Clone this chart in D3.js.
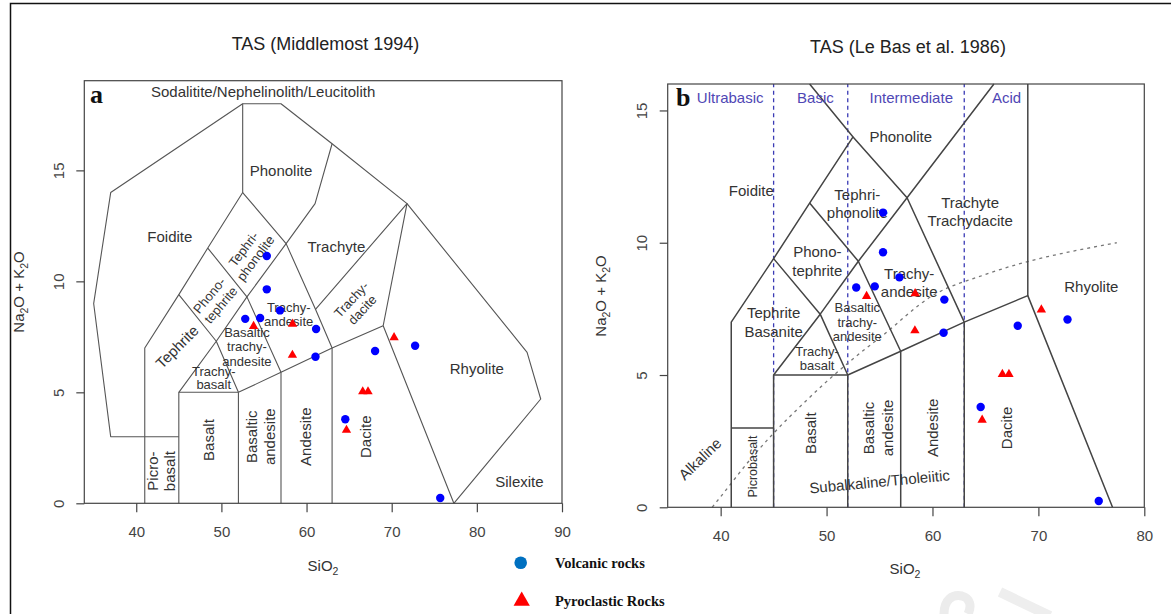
<!DOCTYPE html>
<html><head><meta charset="utf-8">
<script src="https://cdn.jsdelivr.net/npm/d3@7"></script>
<style>body{margin:0;background:#fff}svg{display:block}</style>
</head><body>
<svg id="c" width="1171" height="614"></svg>
<script>
// ---------- sample data (SiO2 wt%, Na2O+K2O wt%) ----------
const volcanicSiO2 = [55.33, 55.33, 56.88, 52.80, 54.55, 61.12, 61.05, 68.05, 72.75, 64.55, 75.70];
const volcanicAlk  = [11.14,  9.64,  8.69,  8.31,  8.35,  7.85,  6.60,  6.86,  7.10,  3.79,  0.24];
const pyroSiO2 = [53.78, 58.36, 58.34, 70.28, 66.60, 67.22, 64.69];
const pyroAlk  = [ 7.98,  8.08,  6.68,  7.47,  5.03,  5.03,  3.30];

// ---------- axis ticks ----------
const xTicksA = [40, 50, 60, 70, 80, 90];
const yTicksA = [0, 5, 10, 15];
const xTicksB = [40, 50, 60, 70, 80];
const yTicksB = [0, 5, 10, 15];

// ---------- classification boundaries: Middlemost (1994) ----------
const mmOuter = [[41,3],[37,3],[35,9],[37,14],[52.5,18],[57,18],[63,16.2],[71.8,13.5],[85.9,6.8],[87.5,4.7],[77.3,0]];
const mmFoiditeLine = [[41,0],[41,7],[45,9.4],[48.4,11.5],[52.5,14],[52.5,18]];
const mmTrachyLine = [[45,0],[45,5],[49.4,7.3],[53,9.3],[57.6,11.7],[61,13.5],[63,16.2]];
const mmPicroTop = [[41,3],[45,3]];
const mmSubalkTop = [[45,5],[52,5],[57,5.9],[63,7],[69,8],[77.3,0]];
const mmV52 = [[52,0],[52,5]];
const mmV57 = [[57,0],[57,5.9]];
const mmV63 = [[63,0],[63,7]];
const mmTephLine = [[45,9.4],[49.4,7.3],[52,5]];
const mmPhonoTephLine = [[48.4,11.5],[53,9.3],[57,5.9]];
const mmPhonLine = [[52.5,14],[57.6,11.7],[61.05,8.74],[63,7]];
const mmTrachydaciteLine = [[61.05,8.74],[71.8,13.5],[69,8]];
const middlemostLines = [mmOuter, mmFoiditeLine, mmTrachyLine, mmPicroTop, mmSubalkTop, mmV52, mmV57, mmV63,
  mmTephLine, mmPhonoTephLine, mmPhonLine, mmTrachydaciteLine];

// ---------- classification boundaries: Le Bas et al. (1986) ----------
const lbFoiditeLine = [[41,0],[41,7],[45,9.4],[48.4,11.5],[52.5,14],[48.4,16]];
const lbPicroTop = [[41,3],[45,3]];
const lbTrachyLine = [[45,0],[45,5],[49.4,7.3],[53,9.3],[57.6,11.7],[65.8,16]];
const lbPhonLine = [[52.5,14],[57.6,11.7],[63,7]];
const lbPhonoTephLine = [[48.4,11.5],[53,9.3],[57,5.9]];
const lbTephLine = [[45,9.4],[49.4,7.3],[52,5]];
const lbSubalkTop = [[45,5],[52,5],[57,5.9],[63,7],[69,8],[77,0]];
const lbV52 = [[52,0],[52,5]];
const lbV57 = [[57,0],[57,5.9]];
const lbV63 = [[63,0],[63,7]];
const lbV69 = [[69,8],[69,16]];
const leBasLines = [lbFoiditeLine, lbPicroTop, lbTrachyLine, lbPhonLine, lbPhonoTephLine, lbTephLine,
  lbSubalkTop, lbV52, lbV57, lbV63, lbV69];
const silicaDivisions = [45, 52, 63];
const silicaClasses = ["Ultrabasic", "Basic", "Intermediate", "Acid"];
const silicaClassPos = [40.9, 48.95, 58.0, 67.0];
// Irvine & Baragar (1971) alkaline / subalkaline divide
const ibSiO2 = [39.2, 40, 43.2, 45, 48, 50, 53.7, 55, 60, 65, 77.4];
const ibAlk  = [0, 0.4, 2, 2.8, 4, 4.75, 6, 6.4, 8, 8.8, 10];

// ---------- field names ----------
const labelsA = [
  {t:["Sodalitite/Nephelinolith/Leucitolith"], x:54.9, y:18.55, r:0, s:15},
  {t:["Phonolite"], x:57.0, y:15.0, r:0, s:15},
  {t:["Foidite"], x:43.95, y:12.0, r:0, s:15},
  {t:["Trachyte"], x:63.5, y:11.55, r:0, s:15},
  {t:["Tephri-","phonolite"], x:53.3, y:11.25, r:-53, s:13, lh:15},
  {t:["Phono-","tephrite"], x:49.25, y:9.15, r:-50, s:13, lh:15},
  {t:["Trachy-","andesite"], x:57.9, y:8.5, r:0, s:13, lh:13.4},
  {t:["Trachy-","dacite"], x:65.9, y:8.95, r:-47, s:13, lh:15},
  {t:["Tephrite"], x:44.8, y:7.05, r:-45, s:15},
  {t:["Basaltic","trachy-","andesite"], x:53.0, y:7.05, r:0, s:13, lh:14.3},
  {t:["Trachy-","basalt"], x:49.1, y:5.65, r:0, s:13, lh:12.7},
  {t:["Picro-","basalt"], x:42.95, y:1.45, r:-90, s:15, lh:17.5},
  {t:["Basalt"], x:48.5, y:2.85, r:-90, s:15},
  {t:["Basaltic","andesite"], x:54.6, y:3.0, r:-90, s:15, lh:17.5},
  {t:["Andesite"], x:59.9, y:3.0, r:-90, s:15},
  {t:["Dacite"], x:67.0, y:3.0, r:-90, s:15},
  {t:["Rhyolite"], x:80.0, y:6.08, r:0, s:15},
  {t:["Silexite"], x:85.0, y:0.97, r:0, s:15}
];
const labelsB = [
  {t:["Phonolite"], x:57.0, y:14.0, r:0, s:15},
  {t:["Foidite"], x:42.9, y:11.97, r:0, s:15},
  {t:["Tephri-","phonolite"], x:52.9, y:11.47, r:0, s:15, lh:18.3},
  {t:["Trachyte","Trachydacite"], x:63.55, y:11.18, r:0, s:15, lh:18},
  {t:["Phono-","tephrite"], x:49.13, y:9.31, r:0, s:15, lh:19},
  {t:["Trachy-","andesite"], x:57.8, y:8.49, r:0, s:15, lh:17.7},
  {t:["Tephrite","Basanite"], x:45.0, y:6.99, r:0, s:15, lh:18.3},
  {t:["Basaltic","trachy-","andesite"], x:52.9, y:7.0, r:0, s:13, lh:14.4},
  {t:["Trachy-","basalt"], x:49.1, y:5.63, r:0, s:13, lh:13.6},
  {t:["Picrobasalt"], x:43.0, y:1.54, r:-90, s:12.5},
  {t:["Basalt"], x:48.5, y:2.8, r:-90, s:15},
  {t:["Basaltic","andesite"], x:54.9, y:3.0, r:-90, s:15, lh:18.6},
  {t:["Andesite"], x:60.0, y:3.0, r:-90, s:15},
  {t:["Dacite"], x:67.0, y:3.0, r:-90, s:15},
  {t:["Rhyolite"], x:75.0, y:8.34, r:0, s:15},
  {t:["Alkaline"], x:38.05, y:1.83, r:-44, s:15},
  {t:["Subalkaline/Tholeiitic"], x:55.0, y:0.97, r:-5.4, s:15}
];

// ---------- drawing ----------
const svg = d3.select("#c");
const FONT = "'Liberation Sans', Arial, Helvetica, sans-serif";
const SERIF = "'Liberation Serif', 'Times New Roman', serif";
svg.append("rect").attr("width",1171).attr("height",614).attr("fill","#fff");
// faint watermark strokes (bottom right)
svg.append("path").attr("d","M944,614 C944,600 952,594 962,596 C970,598 972,606 968,614")
  .attr("fill","none").attr("stroke","#ececec").attr("stroke-width",9);
svg.append("path").attr("d","M1000,592 L1050,616")
  .attr("fill","none").attr("stroke","#eeeeee").attr("stroke-width",10);
// page border
svg.append("rect").attr("x",10.5).attr("y",3.5).attr("width",1300).attr("height",700)
  .attr("fill","none").attr("stroke","#111").attr("stroke-width",1.5);

const xA = d3.scaleLinear().domain([33.9, 90]).range([84.3, 562]);
const yA = d3.scaleLinear().domain([0, 19.04]).range([503.3, 80.7]);
const xB = d3.scaleLinear().domain([35, 80]).range([667.7, 1144.3]);
const yB = d3.scaleLinear().domain([0, 16]).range([507.3, 84]);

function drawLabels(g, xs, ys, list, color) {
  list.forEach(d => {
    const n = d.t.length, lh = d.lh || d.s * 1.2;
    const t = g.append("text")
      .attr("transform", `translate(${xs(d.x)},${ys(d.y)}) rotate(${d.r})`)
      .attr("text-anchor","middle").attr("font-family",FONT)
      .attr("font-size", d.s).attr("fill", color || "#333");
    d.t.forEach((l,i) => t.append("tspan").attr("x",0)
      .attr("dy", i === 0 ? (-(n-1)/2*lh + 0.35*d.s) : lh).text(l));
  });
}

function richText(g, x, y, parts, size, rot) {
  const t = g.append("text").attr("transform", `translate(${x},${y}) rotate(${rot||0})`)
    .attr("text-anchor","middle").attr("font-family",FONT).attr("font-size",size).attr("fill","#333");
  let low = false;
  parts.forEach(p => {
    const ts = t.append("tspan");
    if (p[1]) { ts.attr("font-size", size*0.7).attr("dy", low ? 0 : size*0.28); low = true; }
    else { ts.attr("dy", low ? -size*0.28 : 0); low = false; }
    ts.text(p[0]);
  });
  return t;
}

function panel(xs, ys, xt, yt, lines, lineColor, lineW) {
  const g = svg.append("g");
  const [x0,x1] = xs.range(), [y0,y1] = ys.range();
  const line = d3.line().x(d => xs(d[0])).y(d => ys(d[1]));
  g.append("g").selectAll("path").data(lines).join("path")
    .attr("d", line).attr("fill","none").attr("stroke", lineColor)
    .attr("stroke-width", lineW).attr("stroke-linejoin","round");
  g.append("rect").attr("x",x0).attr("y",y1).attr("width",x1-x0).attr("height",y0-y1)
    .attr("fill","none").attr("stroke","#444").attr("stroke-width",1.2);
  const ax = g.append("g").attr("transform",`translate(0,${y0})`)
    .call(d3.axisBottom(xs).tickValues(xt).tickSize(9).tickSizeOuter(0).tickPadding(14));
  const ay = g.append("g").attr("transform",`translate(${x0},0)`)
    .call(d3.axisLeft(ys).tickValues(yt).tickSize(8).tickSizeOuter(0));
  [ax, ay].forEach(a => {
    a.select(".domain").remove();
    a.selectAll(".tick line").attr("stroke","#444").attr("stroke-width",1.2);
    a.selectAll(".tick text").attr("font-family",FONT).attr("font-size",15).attr("fill","#444");
  });
  ay.selectAll(".tick text").attr("x",null).attr("dy","0.35em")
    .attr("transform","translate(-26,0) rotate(-90)").attr("text-anchor","middle");
  return g;
}

function points(g, xs, ys) {
  g.append("g").selectAll("circle").data(volcanicSiO2).join("circle")
    .attr("cx", (d,i) => xs(d)).attr("cy", (d,i) => ys(volcanicAlk[i]))
    .attr("r", 4.2).attr("fill","#0000ff");
  g.append("g").selectAll("path").data(pyroSiO2).join("path")
    .attr("d", d3.symbol(d3.symbolTriangle).size(38))
    .attr("transform", (d,i) => `translate(${xs(d)},${ys(pyroAlk[i])})`)
    .attr("fill","#ff0000");
}

// ---- panel a ----
const gA = panel(xA, yA, xTicksA, yTicksA, middlemostLines, "#555", 1.1);
drawLabels(gA, xA, yA, labelsA, "#333");
points(gA, xA, yA);
gA.append("text").attr("x",90).attr("y",103).attr("font-family",SERIF).attr("font-weight","bold")
  .attr("font-size",26).attr("fill","#111").text("a");
gA.append("text").attr("x",325.5).attr("y",49.5).attr("text-anchor","middle").attr("font-family",FONT)
  .attr("font-size",18).attr("fill","#222").text("TAS (Middlemost 1994)");
richText(gA, 323, 571, [["SiO"],["2",1]], 15);
richText(gA, 24, 292, [["Na"],["2",1],["O + K"],["2",1],["O"]], 15, -90);

// ---- panel b ----
const gB = svg.append("g");
gB.append("g").selectAll("line").data(silicaDivisions).join("line")
  .attr("x1", d => xB(d)).attr("x2", d => xB(d)).attr("y1", yB(0)).attr("y2", yB(16))
  .attr("stroke","#3b3bb5").attr("stroke-width",1.3).attr("stroke-dasharray","4,3.5");
gB.append("path").datum(ibSiO2.map((d,i)=>[d, ibAlk[i]]))
  .attr("d", d3.line().x(d=>xB(d[0])).y(d=>yB(d[1])).curve(d3.curveMonotoneX))
  .attr("fill","none").attr("stroke","#777").attr("stroke-width",1.3).attr("stroke-dasharray","3,4");
const gB2 = panel(xB, yB, xTicksB, yTicksB, leBasLines, "#444", 1.5);
drawLabels(gB2, xB, yB, labelsB, "#333");
gB2.append("g").selectAll("text").data(silicaClasses).join("text")
  .attr("x",(d,i)=>xB(silicaClassPos[i])).attr("y", yB(15.47)).attr("dy","0.35em")
  .attr("text-anchor","middle").attr("font-family",FONT).attr("font-size",15)
  .attr("fill","#4f47b5").text(d=>d);
points(gB2, xB, yB);
gB2.append("text").attr("x",676).attr("y",106).attr("font-family",SERIF).attr("font-weight","bold")
  .attr("font-size",26).attr("fill","#111").text("b");
gB2.append("text").attr("x",908).attr("y",53).attr("text-anchor","middle").attr("font-family",FONT)
  .attr("font-size",18).attr("fill","#222").text("TAS (Le Bas et al. 1986)");
richText(gB2, 905, 574, [["SiO"],["2",1]], 15);
richText(gB2, 606, 296, [["Na"],["2",1],["O + K"],["2",1],["O"]], 15, -90);

// ---- legend ----
const lg = svg.append("g");
lg.append("circle").attr("cx",520.7).attr("cy",562.7).attr("r",6.3).attr("fill","#0070c0");
lg.append("path").attr("d", d3.symbol(d3.symbolTriangle).size(115))
  .attr("transform","translate(521.7,601)").attr("fill","#ff0000");
lg.append("text").attr("x",555).attr("y",567.5).attr("font-family",SERIF).attr("font-weight","bold")
  .attr("font-size",14.5).attr("fill","#111").text("Volcanic rocks");
lg.append("text").attr("x",555).attr("y",605.5).attr("font-family",SERIF).attr("font-weight","bold")
  .attr("font-size",14.5).attr("fill","#111").text("Pyroclastic Rocks");
</script>
</body></html>
